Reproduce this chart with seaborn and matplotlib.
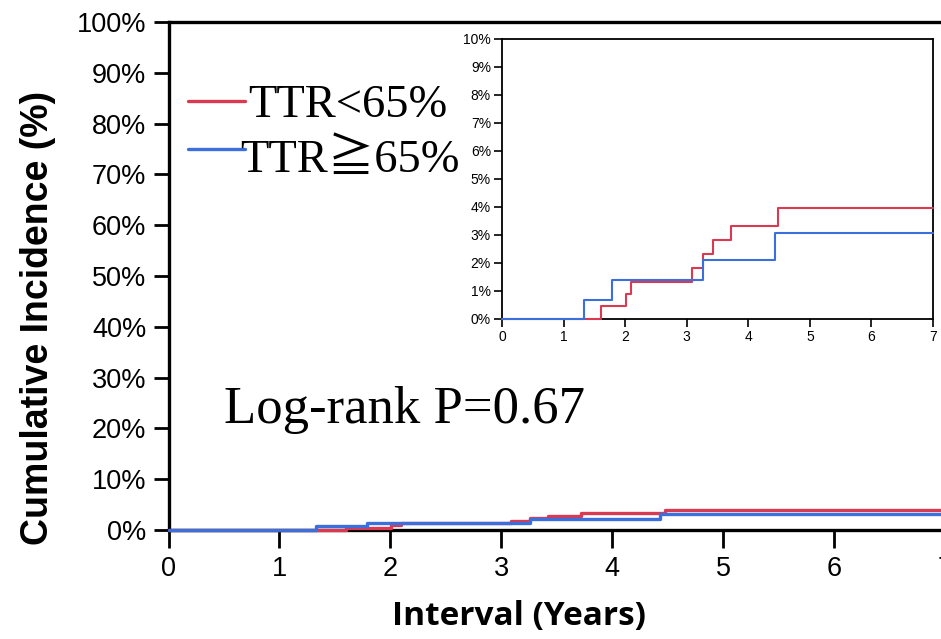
import matplotlib
matplotlib.use("Agg")
import matplotlib.pyplot as plt
import seaborn as sns
import pandas as pd
from matplotlib.lines import Line2D

# ---- data ----
red_times = [0, 1.60, 2.01, 2.10, 3.09, 3.26, 3.42, 3.72, 4.48, 7.0]
red_values = [0, 0.45, 0.89, 1.33, 1.83, 2.32, 2.82, 3.31, 3.95, 3.95]
blue_times = [0, 1.33, 1.79, 3.26, 4.43, 7.0]
blue_values = [0, 0.69, 1.39, 2.12, 3.07, 3.07]
groups = ["TTR<65%", "TTR≧65%"]
colors = ["#d93a52", "#3b6fdc"]
main_yticks = list(range(0, 101, 10))
inset_yticks = list(range(0, 11, 1))
xticks = list(range(0, 8))

df = pd.concat([
    pd.DataFrame({"time": red_times, "inc": red_values, "group": groups[0]}),
    pd.DataFrame({"time": blue_times, "inc": blue_values, "group": groups[1]}),
], ignore_index=True)

sns.set_theme(style="ticks")
plt.rcParams["font.family"] = ["Liberation Sans", "DejaVu Sans"]
plt.rcParams["text.color"] = "black"
plt.rcParams["axes.labelcolor"] = "black"

W, H = 941, 639
fig = plt.figure(figsize=(W / 100, H / 100), dpi=100)

def fx(x):
    return x / W

def fy(y):
    return 1 - y / H

def raise_lines(a):
    for ln in a.get_lines():
        ln.set_zorder(3)
        ln.set_clip_on(False)

# ---- main axes ----
ax = fig.add_axes([fx(168.5), fy(530), fx(945) - fx(168.5), fy(22) - fy(530)])
sns.lineplot(data=df, x="time", y="inc", hue="group", palette=colors,
             drawstyle="steps-post", estimator=None, legend=False,
             linewidth=2.4, ax=ax)
raise_lines(ax)
ax.set_xlim(0, 7)
ax.set_ylim(0, 100)
ax.set_xticks(xticks)
ax.set_xticklabels([str(t) for t in xticks])
ax.set_yticks(main_yticks)
ax.set_yticklabels([f"{t}%" for t in main_yticks])
for s in ax.spines.values():
    s.set_linewidth(2.4)
    s.set_color("black")
    s.set_visible(True)
ax.tick_params(axis="both", direction="out", length=11, width=2, labelsize=19.5,
               colors="black", pad=5)
ax.tick_params(axis="x", length=13, pad=6)
ax.set_xlabel("")
ax.set_ylabel("")

fig.text(fx(38), fy(318), "Cumulative Incidence (%)", rotation=90,
         ha="center", va="center", fontsize=27, fontweight="bold",
         color="black", family=["Liberation Sans", "DejaVu Sans"])
fig.text(fx(519), fy(617), "Interval (Years)", ha="center", va="center",
         fontsize=24, fontweight="bold", color="black",
         family=["Open Sans", "DejaVu Sans"])

# ---- legend (manual) ----
serif = ["Liberation Serif", "Noto Sans CJK JP", "DejaVu Serif"]
fig.add_artist(Line2D([fx(188), fx(245)], [fy(101), fy(101)], color=colors[0],
                      lw=2.4, transform=fig.transFigure))
fig.add_artist(Line2D([fx(188), fx(245)], [fy(149), fy(149)], color=colors[1],
                      lw=2.4, transform=fig.transFigure))
fig.text(fx(248), fy(117), groups[0], ha="left", va="baseline", fontsize=33.5,
         color="black", family=serif)
fig.text(fx(240), fy(172), groups[1], ha="left", va="baseline", fontsize=33.5,
         color="black", family=serif)

fig.text(fx(224), fy(423), "Log-rank P=0.67", ha="left", va="baseline",
         fontsize=38, color="black", family=serif)

# ---- inset ----
axi = fig.add_axes([fx(502), fy(319), fx(933) - fx(502), fy(39) - fy(319)])
sns.lineplot(data=df, x="time", y="inc", hue="group", palette=colors,
             drawstyle="steps-post", estimator=None, legend=False,
             linewidth=1.5, ax=axi)
raise_lines(axi)
axi.set_xlim(0, 7)
axi.set_ylim(0, 10)
axi.set_xticks(xticks)
axi.set_xticklabels([str(t) for t in xticks])
axi.set_yticks(inset_yticks)
axi.set_yticklabels([f"{t}%" for t in inset_yticks])
for s in axi.spines.values():
    s.set_linewidth(1.3)
    s.set_color("black")
    s.set_visible(True)
axi.tick_params(axis="both", direction="out", length=6, width=1.2,
                labelsize=10, colors="black", pad=2)
axi.set_xlabel("")
axi.set_ylabel("")

fig.savefig("out.png", dpi=100)
